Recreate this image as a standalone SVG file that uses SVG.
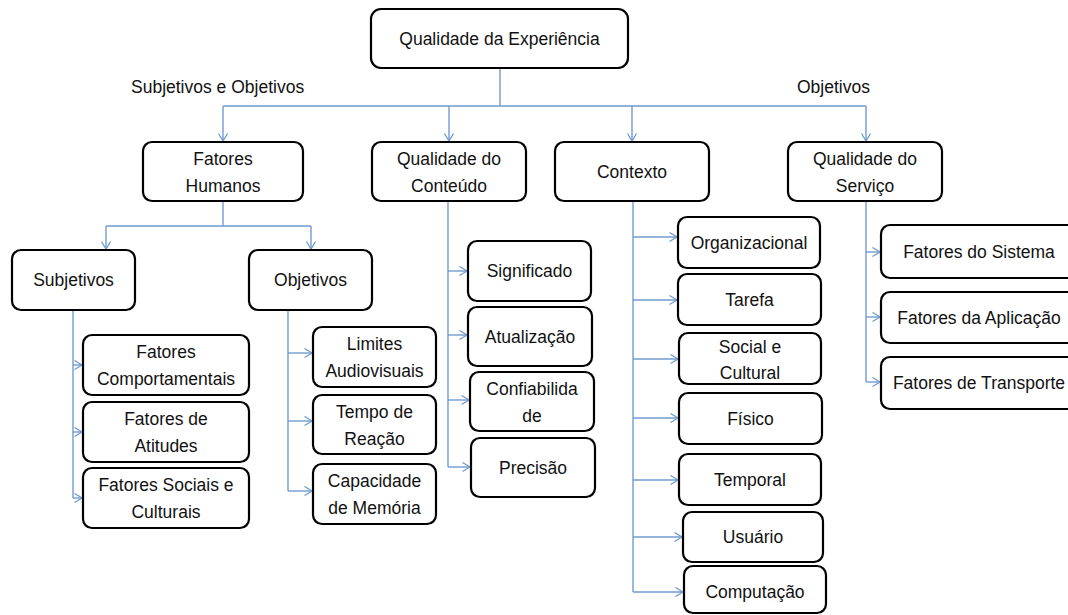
<svg xmlns="http://www.w3.org/2000/svg" width="1068" height="615" viewBox="0 0 1068 615">
  <defs>
    <style>
      .box { fill: #ffffff; stroke: #000000; stroke-width: 2.2; }
      .lbl { font-family: "Liberation Sans", Arial, sans-serif; font-size: 17.5px; fill: #111111; text-anchor: middle; }
      .side { font-family: "Liberation Sans", Arial, sans-serif; font-size: 17.5px; fill: #111111; }
      .wire { fill: none; stroke: #729bd0; stroke-width: 1.4; }
      .arw { fill: none; stroke: #729bd0; stroke-width: 1.4; marker-end: url(#chev); }
    </style>
    <marker id="chev" markerUnits="userSpaceOnUse" markerWidth="10" markerHeight="12" refX="8" refY="5" orient="auto">
      <path d="M0.5,0.5 L8,5 L0.5,9.5" fill="none" stroke="#729bd0" stroke-width="1.3"/>
    </marker>
  </defs>
  <rect width="1068" height="615" fill="#ffffff"/>

  <!-- side labels on the main bus -->
  <text class="side" x="131" y="93">Subjetivos e Objetivos</text>
  <text class="side" x="797" y="93">Objetivos</text>

  <!-- connectors -->
  <g id="connectors">
    <path class="wire" d="M500,68 V106 M223,106 H866"/>
    <path class="arw" d="M223,106 V141"/>
    <path class="arw" d="M449,106 V141"/>
    <path class="arw" d="M632,106 V141"/>
    <path class="arw" d="M866,106 V141"/>

    <!-- Fatores Humanos -->
    <path class="wire" d="M223,201 V226 M106,226 H311"/>
    <path class="arw" d="M106,226 V249"/>
    <path class="arw" d="M311,226 V249"/>

    <!-- Subjetivos -->
    <path class="wire" d="M73,310 V498"/>
    <path class="arw" d="M73,365 H82"/>
    <path class="arw" d="M73,432 H82"/>
    <path class="arw" d="M73,498 H82"/>

    <!-- Objetivos (humanos) -->
    <path class="wire" d="M288,310 V491"/>
    <path class="arw" d="M288,353 H312"/>
    <path class="arw" d="M288,421 H312"/>
    <path class="arw" d="M288,491 H312"/>

    <!-- Qualidade do Conteudo -->
    <path class="wire" d="M448,201 V467"/>
    <path class="arw" d="M448,271 H467"/>
    <path class="arw" d="M448,335 H467"/>
    <path class="arw" d="M448,400 H469"/>
    <path class="arw" d="M448,467 H470"/>

    <!-- Contexto -->
    <path class="wire" d="M633,201 V592"/>
    <path class="arw" d="M633,237 H677"/>
    <path class="arw" d="M633,300 H677"/>
    <path class="arw" d="M633,359 H678"/>
    <path class="arw" d="M633,418 H678"/>
    <path class="arw" d="M633,480 H678"/>
    <path class="arw" d="M633,537 H682"/>
    <path class="arw" d="M633,592 H683"/>

    <!-- Qualidade do Servico -->
    <path class="wire" d="M866,201 V382"/>
    <path class="arw" d="M866,252 H880"/>
    <path class="arw" d="M866,317 H880"/>
    <path class="arw" d="M866,382 H880"/>
  </g>

  <!-- root -->
  <g id="qoe">
    <rect class="box" x="371" y="9" width="257" height="59" rx="10"/>
    <text class="lbl" x="499.5" y="45">Qualidade da Experiência</text>
  </g>

  <!-- first level -->
  <g id="fatores-humanos">
    <rect class="box" x="143" y="142" width="160" height="59" rx="9"/>
    <text class="lbl" x="223" y="165">Fatores</text>
    <text class="lbl" x="223" y="192">Humanos</text>
  </g>
  <g id="qualidade-conteudo">
    <rect class="box" x="372" y="142" width="154" height="59" rx="9"/>
    <text class="lbl" x="449" y="165">Qualidade do</text>
    <text class="lbl" x="449" y="192">Conteúdo</text>
  </g>
  <g id="contexto">
    <rect class="box" x="555" y="142" width="154" height="59" rx="9"/>
    <text class="lbl" x="632" y="178">Contexto</text>
  </g>
  <g id="qualidade-servico">
    <rect class="box" x="788" y="142" width="154" height="59" rx="9"/>
    <text class="lbl" x="865" y="165">Qualidade do</text>
    <text class="lbl" x="865" y="192">Serviço</text>
  </g>

  <!-- human factors split -->
  <g id="subjetivos">
    <rect class="box" x="12" y="250" width="123" height="60" rx="9"/>
    <text class="lbl" x="73.5" y="286">Subjetivos</text>
  </g>
  <g id="objetivos">
    <rect class="box" x="249" y="250" width="123" height="60" rx="9"/>
    <text class="lbl" x="310.5" y="286">Objetivos</text>
  </g>

  <g id="fatores-comportamentais">
    <rect class="box" x="83" y="335" width="166" height="60" rx="9"/>
    <text class="lbl" x="166" y="358">Fatores</text>
    <text class="lbl" x="166" y="385">Comportamentais</text>
  </g>
  <g id="fatores-atitudes">
    <rect class="box" x="83" y="402" width="166" height="60" rx="9"/>
    <text class="lbl" x="166" y="425">Fatores de</text>
    <text class="lbl" x="166" y="452">Atitudes</text>
  </g>
  <g id="fatores-sociais">
    <rect class="box" x="83" y="468" width="166" height="60" rx="9"/>
    <text class="lbl" x="166" y="491">Fatores Sociais e</text>
    <text class="lbl" x="166" y="518">Culturais</text>
  </g>

  <g id="limites-audiovisuais">
    <rect class="box" x="313" y="327" width="123" height="60" rx="9"/>
    <text class="lbl" x="374.5" y="350">Limites</text>
    <text class="lbl" x="374.5" y="377">Audiovisuais</text>
  </g>
  <g id="tempo-reacao">
    <rect class="box" x="313" y="395" width="123" height="59" rx="9"/>
    <text class="lbl" x="374.5" y="418">Tempo de</text>
    <text class="lbl" x="374.5" y="445">Reação</text>
  </g>
  <g id="capacidade-memoria">
    <rect class="box" x="313" y="464" width="123" height="60" rx="9"/>
    <text class="lbl" x="374.5" y="487">Capacidade</text>
    <text class="lbl" x="374.5" y="514">de Memória</text>
  </g>

  <!-- content quality -->
  <g id="significado">
    <rect class="box" x="468" y="241" width="123" height="60" rx="9"/>
    <text class="lbl" x="529.5" y="277">Significado</text>
  </g>
  <g id="atualizacao">
    <rect class="box" x="468" y="307" width="124" height="59" rx="9"/>
    <text class="lbl" x="530" y="343">Atualização</text>
  </g>
  <g id="confiabilidade">
    <rect class="box" x="470" y="372" width="124" height="59" rx="9"/>
    <text class="lbl" x="532" y="395">Confiabilida</text>
    <text class="lbl" x="532" y="422">de</text>
  </g>
  <g id="precisao">
    <rect class="box" x="471" y="438" width="124" height="59" rx="9"/>
    <text class="lbl" x="533" y="474">Precisão</text>
  </g>

  <!-- context -->
  <g id="organizacional">
    <rect class="box" x="678" y="217" width="142" height="51" rx="9"/>
    <text class="lbl" x="749" y="249">Organizacional</text>
  </g>
  <g id="tarefa">
    <rect class="box" x="678" y="274" width="143" height="51" rx="9"/>
    <text class="lbl" x="749.5" y="306">Tarefa</text>
  </g>
  <g id="social-cultural">
    <rect class="box" x="679" y="333" width="142" height="51" rx="9"/>
    <text class="lbl" x="750" y="353">Social e</text>
    <text class="lbl" x="750" y="379">Cultural</text>
  </g>
  <g id="fisico">
    <rect class="box" x="679" y="393" width="143" height="51" rx="9"/>
    <text class="lbl" x="750.5" y="425">Físico</text>
  </g>
  <g id="temporal">
    <rect class="box" x="679" y="454" width="142" height="51" rx="9"/>
    <text class="lbl" x="750" y="486">Temporal</text>
  </g>
  <g id="usuario">
    <rect class="box" x="683" y="512" width="140" height="50" rx="9"/>
    <text class="lbl" x="753" y="543">Usuário</text>
  </g>
  <g id="computacao">
    <rect class="box" x="684" y="566" width="142" height="47" rx="9"/>
    <text class="lbl" x="755" y="598">Computação</text>
  </g>

  <!-- service quality -->
  <g id="fatores-sistema">
    <rect class="box" x="881" y="225" width="196" height="53" rx="9"/>
    <text class="lbl" x="979" y="258">Fatores do Sistema</text>
  </g>
  <g id="fatores-aplicacao">
    <rect class="box" x="881" y="292" width="196" height="51" rx="9"/>
    <text class="lbl" x="979" y="324">Fatores da Aplicação</text>
  </g>
  <g id="fatores-transporte">
    <rect class="box" x="881" y="357" width="196" height="52" rx="9"/>
    <text class="lbl" x="979" y="389">Fatores de Transporte</text>
  </g>
</svg>
